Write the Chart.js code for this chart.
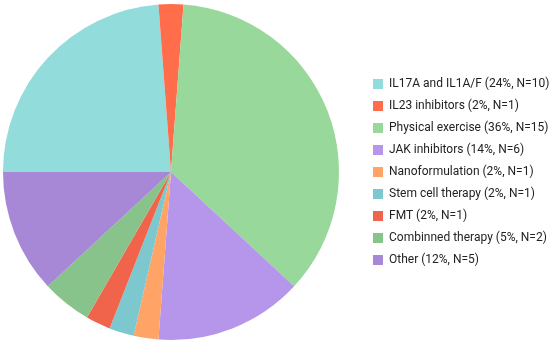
<!DOCTYPE html>
<html>
<head>
<meta charset="utf-8">
<script src="https://cdn.jsdelivr.net/npm/chart.js@4"></script>
<style>
  html, body { margin: 0; padding: 0; background: #fff; }
  #wrap { width: 550px; height: 344px; }
</style>
</head>
<body>
<div id="wrap"><canvas id="myChart"></canvas></div>
<script>
var categories = [
    'IL17A and IL1A/F', 'IL23 inhibitors', 'Physical exercise', 'JAK inhibitors',
    'Nanoformulation', 'Stem cell therapy', 'FMT', 'Combinned therapy', 'Other'
];
var counts = [10, 1, 15, 6, 1, 1, 1, 2, 5];
var percents = [24, 2, 36, 14, 2, 2, 2, 5, 12];
var colors = [
    '#93dcdc', '#ff6d4b', '#98d89a', '#b596ea',
    '#ffa367', '#7dc8ce', '#f0644b', '#87c38a', '#a688d6'
];

var labels = categories.map(function(c, i) {
    return c + ' (' + percents[i] + '%, N=' + counts[i] + ')';
});

// legend takes a fixed slot on the right, items pushed a bit away from the pie
var legendPlace = {
    id: 'legendPlace',
    beforeLayout: function(chart) {
        var lg = chart.legend;
        if (!lg || lg._wrapped) return;
        var fit = lg.fit;
        lg.fit = function() {
            fit.call(this);
            this.width = 211;
        };
        lg._wrapped = true;
    },
    afterLayout: function(chart) {
        chart.legend.left += 24;
        chart.legend.right += 24;
    }
};

var ctx = document.getElementById('myChart').getContext('2d');
var myChart = new Chart(ctx, {
    type: 'pie',
    data: {
        labels: labels,
        datasets: [{
            data: counts,
            backgroundColor: colors,
            borderWidth: 0
        }]
    },
    options: {
        responsive: true,
        maintainAspectRatio: false,
        animation: false,
        rotation: -90,
        layout: {
            padding: { left: 3, right: 0, top: 4, bottom: 4 }
        },
        plugins: {
            tooltip: { enabled: false },
            legend: {
                position: 'right',
                labels: {
                    boxWidth: 10,
                    boxHeight: 10,
                    padding: 10,
                    color: '#222',
                    font: { family: 'Roboto', size: 12 }
                }
            }
        }
    },
    plugins: [legendPlace]
});
</script>
</body>
</html>
